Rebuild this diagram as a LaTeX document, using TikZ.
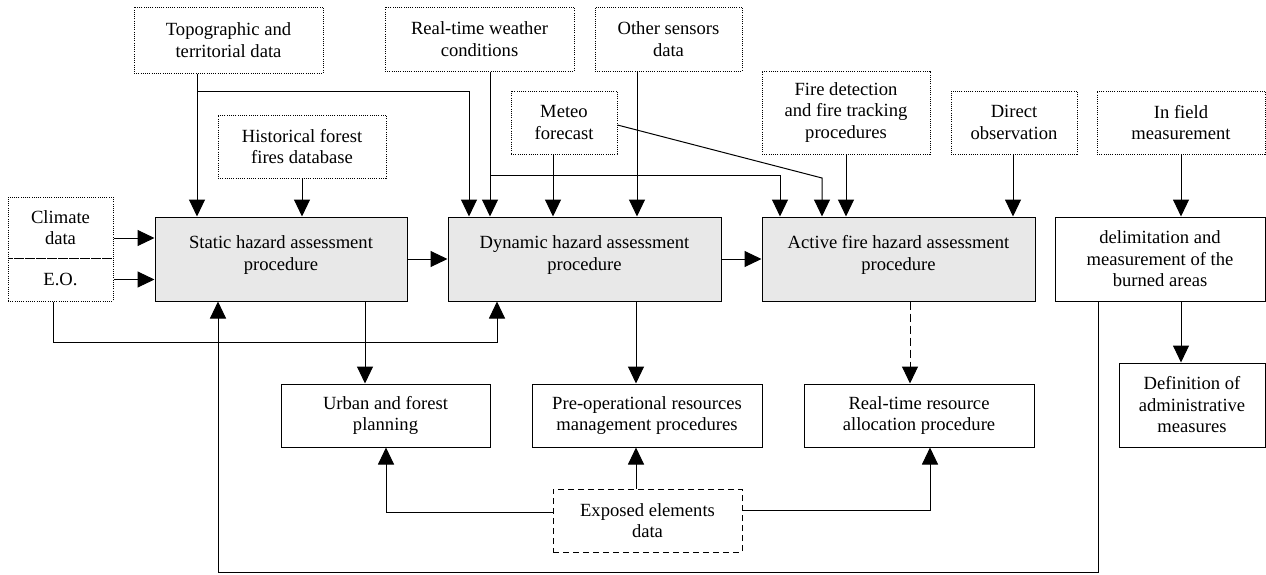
\documentclass[tikz,border=0pt]{standalone}
\usepackage{fontspec}
\setmainfont{Liberation Serif}
\usetikzlibrary{arrows.meta}
\definecolor{procgray}{RGB}{232,232,232}
\newcommand{\lowstrut}{\rule[-12pt]{0pt}{1pt}}
\begin{document}
\begin{tikzpicture}[x=1pt,y=-1pt,
  box/.style={draw, line width=1pt, align=center, inner sep=0pt,
    font=\fontsize{18.6}{21.5}\selectfont},
  databox/.style={box, dash pattern=on 1pt off 1.2pt},
  procbox/.style={box, fill=procgray},
  outbox/.style={box},
  exbox/.style={box, dash pattern=on 6pt off 4pt},
  arr/.style={line width=1pt, -{Triangle[length=17pt,width=16pt]}},
  darr/.style={arr, dash pattern=on 8pt off 4pt}]
\useasboundingbox (0,0) rectangle (1266,574);

% input data boxes
\node[databox, minimum width=189pt, minimum height=66pt] (topo) at (228.5,40) {Topographic and\\territorial data};
\node[databox, minimum width=168pt, minimum height=63pt] (hist) at (302,146.5) {Historical forest\\fires database};
\node[databox, minimum width=105pt, minimum height=61pt] (climate) at (60.5,227.5) {Climate\\data};
\node[databox, minimum width=105pt, minimum height=43pt] (eo) at (60.5,279.5) {E.O.};
\node[databox, minimum width=189pt, minimum height=64pt] (realtime) at (479.5,39) {Real-time weather\\conditions};
\node[databox, minimum width=106pt, minimum height=63pt] (meteo) at (564,122.5) {Meteo\\forecast};
\node[databox, minimum width=147pt, minimum height=64pt] (other) at (668.5,39) {Other sensors\\data};
\node[databox, minimum width=168pt, minimum height=83pt] (firedet) at (846,112.5) {Fire detection\\and fire tracking\\procedures};
\node[databox, minimum width=126pt, minimum height=63pt] (direct) at (1014,122.5) {Direct\\observation};
\node[databox, minimum width=168pt, minimum height=63pt] (infield) at (1181,122.5) {In field\\measurement};

% procedures
\node[procbox, minimum width=252pt, minimum height=84pt] (static) at (281,259) {Static hazard assessment\\procedure\lowstrut};
\node[procbox, minimum width=273pt, minimum height=84pt] (dynamic) at (584.5,259) {Dynamic hazard assessment\\procedure\lowstrut};
\node[procbox, minimum width=273pt, minimum height=84pt] (active) at (898.5,259) {Active fire hazard assessment\\procedure\lowstrut};
\node[outbox, minimum width=210pt, minimum height=84pt] (delim) at (1160,259) {delimitation and\\measurement of the\\burned areas};

% outputs
\node[outbox, minimum width=209pt, minimum height=63pt] (urban) at (385.5,415.5) {Urban and forest\\planning};
\node[outbox, minimum width=230pt, minimum height=63pt] (preop) at (647,415.5) {Pre-operational resources\\management procedures};
\node[outbox, minimum width=230pt, minimum height=63pt] (rtres) at (919,415.5) {Real-time resource\\allocation procedure};
\node[outbox, minimum width=146pt, minimum height=84pt] (defin) at (1192,405) {Definition of\\administrative\\measures};
\node[exbox, minimum width=189pt, minimum height=63pt] (exposed) at (647.5,520.5) {Exposed elements\\data};

% helper coordinates
\coordinate (kA) at (197,91);
\coordinate (kB) at (469,91);
\coordinate (yC) at (0,238);
\coordinate (kC) at (53,342);
\coordinate (kD) at (497,342);
\coordinate (kE) at (490,175);
\coordinate (kF) at (780,175);
\coordinate (kG) at (553,0);
\coordinate (kH) at (0,125);
\coordinate (kI) at (822,178);
\coordinate (kJ) at (637,0);
\coordinate (kK) at (1013,0);
\coordinate (kL) at (365,0);
\coordinate (kM) at (636,0);
\coordinate (kN) at (910,0);
\coordinate (kO) at (1181,0);
\coordinate (kP) at (1098,572);
\coordinate (kQ) at (218,572);
\coordinate (kR) at (386,512);
\coordinate (kS) at (930,510);

% connectors into static
\draw[arr] (topo.south -| kA) -- (static.north -| kA);
\draw[arr] (kA) -| (dynamic.north -| kB);
\draw[arr] (hist.south) -- (hist.south |- static.north);
\draw[arr] (climate.east |- yC) -- (static.west |- yC);
\draw[arr] (eo.east) -- (eo.east -| static.west);
\draw[arr] (eo.south -| kC) -- (kC) -- (kD) -- (dynamic.south -| kD);

% chain
\draw[arr] (static.east) -- (dynamic.west);
\draw[arr] (dynamic.east) -- (active.west);

% into dynamic / active
\draw[arr] (realtime.south -| kE) -- (dynamic.north -| kE);
\draw[arr] (kE) -| (active.north -| kF);
\draw[arr] (meteo.south -| kG) -- (dynamic.north -| kG);
\draw[arr] (meteo.east |- kH) -- (kI) -- (active.north -| kI);
\draw[arr] (other.south -| kJ) -- (dynamic.north -| kJ);
\draw[arr] (firedet.south) -- (firedet.south |- active.north);
\draw[arr] (direct.south -| kK) -- (active.north -| kK);
\draw[arr] (infield.south) -- (infield.south |- delim.north);

% outputs
\draw[arr] (static.south -| kL) -- (urban.north -| kL);
\draw[arr] (dynamic.south -| kM) -- (preop.north -| kM);
\draw[darr] (active.south -| kN) -- (rtres.north -| kN);
\draw[arr] (delim.south -| kO) -- (defin.north -| kO);
\draw[arr] (delim.south -| kP) -- (kP) -- (kQ) -- (static.south -| kQ);

% exposed elements
\draw[arr] (exposed.west |- kR) -- (kR) -- (urban.south -| kR);
\draw[arr] (exposed.north -| kM) -- (preop.south -| kM);
\draw[arr] (exposed.east |- kS) -- (kS) -- (rtres.south -| kS);
\end{tikzpicture}
\end{document}
